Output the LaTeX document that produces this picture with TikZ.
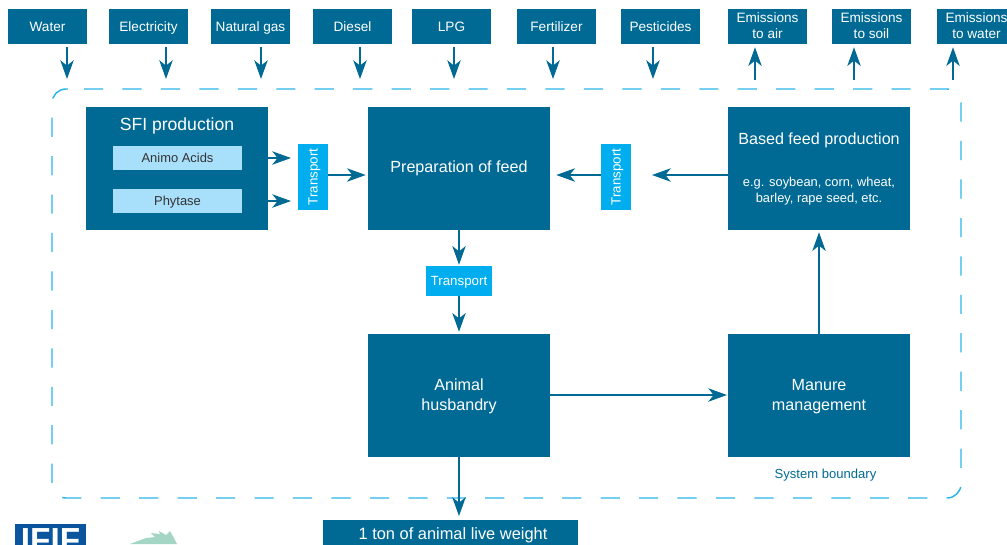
\documentclass[tikz,border=0pt]{standalone}
\usepackage{fontspec}
\setmainfont{Liberation Sans}
\usepackage{tikz}
\usetikzlibrary{arrows.meta,positioning}
\definecolor{boxblue}{HTML}{006A94}
\definecolor{transblue}{HTML}{00AEEF}
\definecolor{paleblue}{HTML}{A8DFFB}
\definecolor{edgeblue}{HTML}{29B6E8}
\definecolor{logoblue}{HTML}{0B559F}
\definecolor{leafgreen}{HTML}{A5D6C5}
\tikzset{every picture/.style={
  >={Stealth[length=14pt,width=10pt,inset=4pt]}  % Narrow concave heads.
  }
}

\begin{document}
\begin{tikzpicture}[
    x=0.75pt,
    y=-0.75pt,
    inner sep=0pt,
    oneline/.style={
      text height=8.4pt,
      text depth=1.6pt
    },
    twoline/.style={
      text height=20pt,
      text depth=2pt
    },
    outerbox/.style={
      rectangle,
      fill=boxblue,
      text=white,
      align=center,
      font=\fontsize{10.2}{12}\selectfont,
      minimum width=59.25pt,
      minimum height=26.25pt
    },
    stagebox/.style={
      rectangle,
      fill=boxblue,
      text=white,
      align=center,
      font=\fontsize{12.1}{15}\selectfont,
      minimum width=136.5pt,
      minimum height=92.25pt
    },
    subbox/.style={
      rectangle,
      fill=paleblue,
      text=black!80,
      font=\fontsize{9.7}{11}\selectfont,
      minimum width=96.75pt,
      minimum height=18pt
    },
    transbox/.style={
      rectangle,
      oneline,
      fill=transblue,
      text=white,
      font=\fontsize{10}{11}\selectfont,
      minimum width=49.5pt,
      minimum height=22.5pt
    },
    flow/.style={
      draw=boxblue,
      line width=1.6pt,
      ->
    }]

    \clip (0,0) rectangle (1007,544);

    % Inputs and outputs along the top.
    \node[outerbox,oneline] (water) at (47.5,26.5) {Water};
    \node[outerbox,oneline] (elec) at (148.5,26.5) {Electricity};
    \node[outerbox,oneline] (gas) at (250.5,26.5) {Natural gas};
    \node[outerbox,oneline] (diesel) at (352.5,26.5) {Diesel};
    \node[outerbox,oneline] (lpg) at (451.5,26.5) {LPG};
    \node[outerbox,oneline] (fert) at (556.5,26.5) {Fertilizer};
    \node[outerbox,oneline] (pest) at (660.5,26.5) {Pesticides};
    \node[outerbox,twoline] (air) at (767.5,26.5) {Emissions\\to air};
    \node[outerbox,twoline] (soil) at (871.5,26.5) {Emissions\\to soil};
    \node[outerbox,twoline] (wat) at (976.5,26.5) {Emissions\\to water};

    % Free ends of the arrows, just above the boundary.
    \coordinate (waterin) at (67,79);
    \coordinate (elecin) at (166,79);
    \coordinate (gasin) at (261,79);
    \coordinate (dieselin) at (360,79);
    \coordinate (lpgin) at (454,79);
    \coordinate (fertin) at (553,79);
    \coordinate (pestin) at (653,79);
    \coordinate (airout) at (755,80);
    \coordinate (soilout) at (854,80);
    \coordinate (watout) at (953,80);

    \foreach \from/\to in {water/waterin,elec/elecin,gas/gasin,diesel/dieselin,
      lpg/lpgin,fert/fertin,pest/pestin}
      \draw[flow,shorten <=2.25pt] (\to |- \from.south) -- (\to);
    \foreach \to/\from in {air/airout,soil/soilout,wat/watout}
      \draw[flow,shorten >=2.25pt] (\from) -- (\from |- \to.south);

    % The system boundary.
    \draw[edgeblue,line width=1.1pt,rounded corners=10.5pt,
      dash pattern=on 14.4pt off 14.44pt]
      (84,89) -- (961,89) -- (961,498) -- (52,498) -- (52,89) -- (84,89);

    % The stages inside it.
    \node[stagebox] (sfi) at (177,168.5) {};
    \node[font=\fontsize{13.2}{15}\selectfont,text=white] (sfititle) at (177,126)
      {SFI production};
    \node[subbox,oneline] (amino) at (177.5,158) {Animo Acids};
    \node[subbox,oneline] (phyt) at (177.5,201) {Phytase};
    \node[stagebox] (prep) at (459,168.5) {Preparation of feed};
    \node[stagebox] (based) at (819,168.5) {};
    \node[font=\fontsize{12.1}{14}\selectfont,text=white,oneline] (basedtitle) at (819,140)
      {Based feed production};
    \node[font=\fontsize{9.65}{12}\selectfont,text=white,align=center,text height=19pt,
      text depth=2pt] (basedtext) at (819,191)
      {e.g. soybean, corn, wheat,\\barley, rape seed, etc.};
    \node[stagebox,text height=25.5pt,text depth=3pt] (animal) at (459,395.5)
      {Animal\\husbandry};
    \node[stagebox,text height=25.5pt,text depth=3pt] (manure) at (819,395.5)
      {Manure\\management};

    % Transport steps.
    \node[transbox,rotate=90] (transl) at (313,177) {Transport};
    \node[transbox,rotate=90] (transr) at (616,177) {Transport};
    \node[transbox] (transm) at (459,281) {Transport};

    \node[text=boxblue,font=\fontsize{9.8}{11}\selectfont,oneline] (sysb) at (825.5,474)
      {System boundary};
    \node[fill=boxblue,minimum width=191.25pt,minimum height=27pt,anchor=north] (product)
      at (450.5,520) {};
    \node[text=white,font=\fontsize{12.3}{14}\selectfont,oneline] (producttext)
      at (453,535) {1 ton of animal live weight};

    % Connect the stages.
    \coordinate (aminoend) at (291,158);
    \coordinate (phytend) at (291,201);
    \coordinate (basedend) at (652,175);
    \coordinate (husbend) at (727,395);
    \draw[flow] (sfi.east |- aminoend) -- (aminoend);
    \draw[flow] (sfi.east |- phytend) -- (phytend);
    \draw[flow,shorten >=1.5pt] (transl.south |- basedend) -- (prep.west |- basedend);
    \draw[flow] (based.west |- basedend) -- (basedend);
    \draw[flow,shorten >=4.5pt] (transr.north |- basedend) -- (prep.east |- basedend);
    \draw[flow,shorten >=0.75pt] (prep.south) -- (transm.north);
    \draw[flow,shorten >=1.5pt] (transm.south) -- (animal.north);
    \draw[flow] (animal.east |- husbend) -- (husbend);
    \draw[flow,shorten >=1.5pt] (manure.north) -- (based.south);
    \draw[flow,shorten >=3pt] (animal.south) -- (animal.south |- product.north);

    % Tops of the two logos.
    \node[fill=logoblue,minimum width=53.25pt,minimum height=24pt,anchor=north west] (ifif)
      at (15,524) {};
    \node[text=white,font=\bfseries\fontsize{25}{25}\selectfont,anchor=north] (ififtext)
      at (50.5,528) {IFIF};
    \fill[leafgreen] (130,544) -- (146,538) -- (155,537) -- (151,533) -- (160,534)
      -- (159,531) -- (166,535) -- (170,531) -- (174,538) -- (177,544) -- cycle;
  \end{tikzpicture}
\end{document}
